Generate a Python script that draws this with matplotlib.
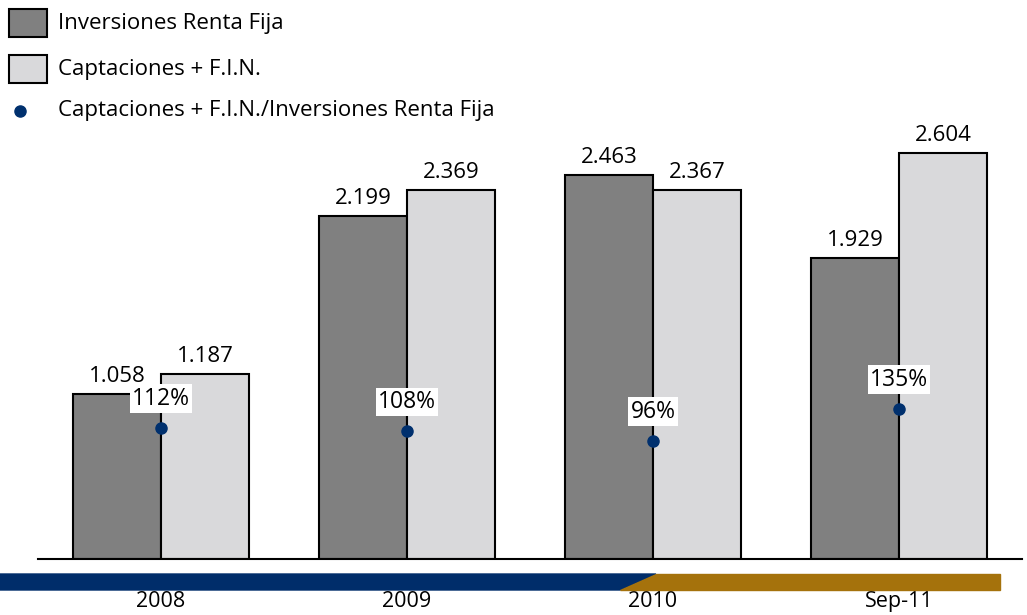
import matplotlib.pyplot as plt
import numpy as np
from matplotlib.patches import Rectangle, Polygon
from matplotlib.lines import Line2D

plt.rcParams.update({"font.family": ["Open Sans", "DejaVu Sans"], "font.size": 14})

categories = ["2008", "2009", "2010", "Sep-11"]
inversiones = [1058, 2199, 2463, 1929]
captaciones = [1187, 2369, 2367, 2604]
ratio = [112, 108, 96, 135]
inv_labels = ["1.058", "2.199", "2.463", "1.929"]
cap_labels = ["1.187", "2.369", "2.367", "2.604"]

W, H = 1027, 615
fig = plt.figure(figsize=(W / 100, H / 100), dpi=100)

def fx(px):
    return px / W

def fy(py):
    return 1 - py / H

ax = fig.add_axes([fx(38), fy(559), fx(1022 - 38), (559 - 120) / H])
x = np.arange(len(categories))
w = 0.358
dark, light = "#808080", "#d9d9db"
ax.bar(x - w / 2, inversiones, w, color=dark, edgecolor="black", linewidth=1.5, zorder=2)
ax.bar(x + w / 2, captaciones, w, color=light, edgecolor="black", linewidth=1.5, zorder=2)
ax.set_xlim(-0.5, 3.5)
ax.set_ylim(0, 2815)

for i in range(len(categories)):
    ax.annotate(inv_labels[i], (x[i] - w / 2, inversiones[i]), xytext=(0, 5),
                textcoords="offset points", ha="center", va="bottom", fontsize=16)
    ax.annotate(cap_labels[i], (x[i] + w / 2, captaciones[i]), xytext=(0, 5),
                textcoords="offset points", ha="center", va="bottom", fontsize=16)

for s in ["top", "right", "left"]:
    ax.spines[s].set_visible(False)
ax.spines["bottom"].set_linewidth(1.5)
ax.set_yticks([])
ax.set_xticks(x)
ax.set_xticklabels(categories, fontsize=15.5)
ax.tick_params(axis="x", length=0, pad=23)

# ratio on secondary axis
ax2 = ax.twinx()
ax2.set_ylim(-48, 487)
ax2.axis("off")
ax2.plot(x, ratio, "o", color="#00306e", markersize=8, zorder=3)
for i in range(len(categories)):
    ax2.annotate(f"{ratio[i]}%", (x[i], ratio[i]), xytext=(0, 21),
                 textcoords="offset points", ha="center", va="center", fontsize=16.5,
                 bbox=dict(boxstyle="square,pad=0.1", fc="white", ec="none"))

# bottom band
fig.add_artist(Polygon([(fx(0), fy(574)), (fx(656), fy(574)), (fx(620), fy(590)), (fx(0), fy(590))],
                       closed=True, color="#002d6a", transform=fig.transFigure, zorder=1))
fig.add_artist(Polygon([(fx(656), fy(574)), (fx(1000), fy(574)), (fx(1000), fy(590)), (fx(620), fy(590))],
                       closed=True, color="#a5720c", transform=fig.transFigure, zorder=1))

# legend
fig.add_artist(Rectangle((fx(9), fy(37)), fx(38), 28 / H, fc=dark, ec="black", lw=1.5,
                         transform=fig.transFigure))
fig.add_artist(Rectangle((fx(9), fy(83)), fx(38), 28 / H, fc=light, ec="black", lw=1.5,
                         transform=fig.transFigure))
fig.add_artist(Line2D([fx(20)], [fy(111)], marker="o", color="#00306e", markersize=8,
                      transform=fig.transFigure))
fig.text(fx(58), fy(24), "Inversiones Renta Fija", va="center", fontsize=16)
fig.text(fx(58), fy(70), "Captaciones + F.I.N.", va="center", fontsize=16)
fig.text(fx(58), fy(111), "Captaciones + F.I.N./Inversiones Renta Fija", va="center", fontsize=16)

fig.savefig("out.png", dpi=100)
